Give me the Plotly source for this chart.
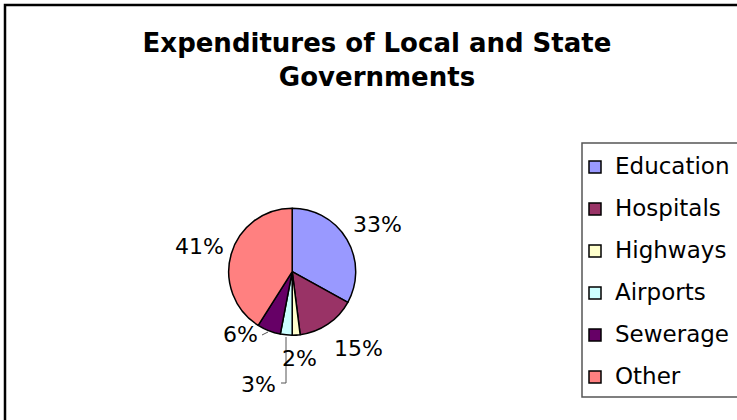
import plotly.graph_objects as go

# ---- data ----
categories = ["Education", "Hospitals", "Highways", "Airports", "Sewerage", "Other"]
values = [33, 15, 2, 3, 6, 41]
colors = ["#9999FF", "#993366", "#FFFFCC", "#CCFFFF", "#660066", "#FF8080"]
title_text = "Expenditures of Local and State<br>Governments"

# ---- layout constants (pixels) ----
W, H = 737, 420
def px(x):
    return x / W
def py(y):
    return 1 - y / H

cx, cy, r = 292.2, 271.7, 63.5
# label centres (pixels), same order as categories
label_pos = [(377, 224), (358, 348), (299, 358), (258, 384), (240, 334), (199, 246)]

legend_labels = [f'<span style="font-size:23px;baseline-shift:5px">{c}</span>' for c in categories]

fig = go.Figure()
fig.add_trace(go.Pie(
    labels=legend_labels,
    values=values,
    sort=False,
    direction="clockwise",
    rotation=0,
    marker=dict(colors=colors, line=dict(color="black", width=1.5)),
    textinfo="none",
    hoverinfo="label+percent",
    domain=dict(x=[px(cx - r), px(cx + r)], y=[py(cy + r), py(cy - r)]),
))

annotations = []
for v, (lx, ly) in zip(values, label_pos):
    annotations.append(dict(
        x=px(lx), y=py(ly), xref="paper", yref="paper",
        text=f"{v}%", showarrow=False, xanchor="center", yanchor="middle",
        font=dict(family="DejaVu Sans", size=22, color="black"),
    ))

shapes = [
    # outer chart border (runs off right and bottom)
    dict(type="rect", xref="paper", yref="paper", x0=px(5), x1=px(W + 20), y0=py(H + 20), y1=py(5),
         line=dict(color="black", width=2.5), fillcolor="rgba(0,0,0,0)", layer="below"),
    # legend frame
    dict(type="rect", xref="paper", yref="paper", x0=px(582), x1=px(W + 20), y0=py(397), y1=py(143),
         line=dict(color="#555555", width=1.5), fillcolor="rgba(0,0,0,0)"),
    # leader lines
    dict(type="line", xref="paper", yref="paper", x0=px(262), y0=py(335), x1=px(268), y1=py(332),
         line=dict(color="#555555", width=1)),
    dict(type="line", xref="paper", yref="paper", x0=px(286), y0=py(337), x1=px(286), y1=py(383),
         line=dict(color="#555555", width=1)),
    dict(type="line", xref="paper", yref="paper", x0=px(286), y0=py(383), x1=px(281), y1=py(383),
         line=dict(color="#555555", width=1)),
]

fig.update_layout(
    width=W, height=H,
    margin=dict(l=0, r=0, t=0, b=0),
    paper_bgcolor="white", plot_bgcolor="white",
    title=dict(text=title_text, x=px(377), xanchor="center", xref="paper",
               y=py(52), yref="container", yanchor="top",
               font=dict(family="DejaVu Sans", size=26, color="black", weight="bold")),
    showlegend=True,
    legend=dict(x=px(575), y=py(141), xanchor="left", yanchor="top",
                font=dict(family="DejaVu Sans", size=30, color="black"),
                bgcolor="rgba(0,0,0,0)", borderwidth=0, traceorder="normal"),
    annotations=annotations,
    shapes=shapes,
)

fig.write_html("out.html")
